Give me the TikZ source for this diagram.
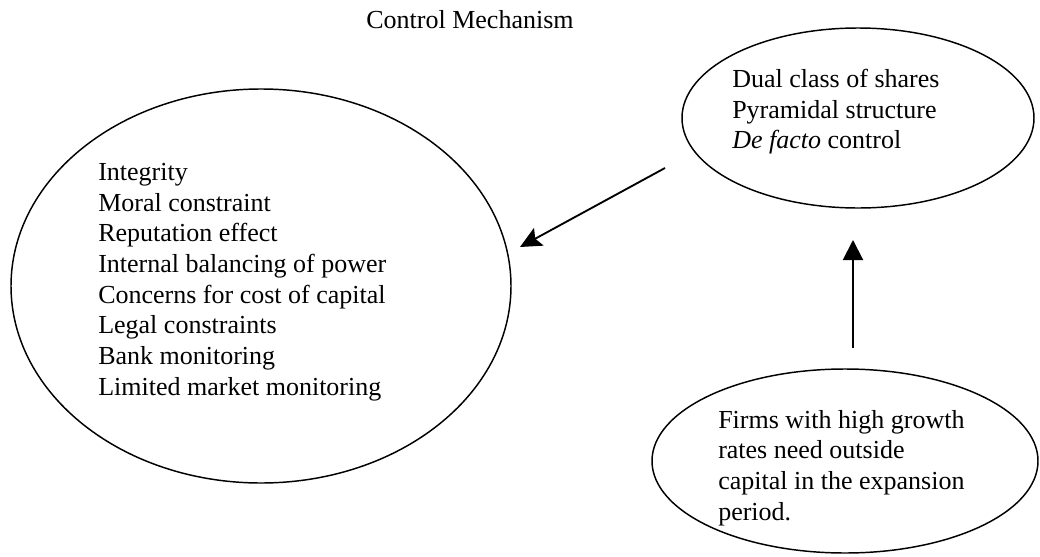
\documentclass[tikz,border=0pt]{standalone}
\usepackage{fontspec}
\setmainfont{Liberation Serif}
\usetikzlibrary{shapes.geometric,arrows.meta}
\tikzset{
  oval/.style={draw=black, ellipse, line width=1.1pt, inner sep=0pt},
  listtext/.style={anchor=north west, align=left, inner sep=0pt, font=\fontsize{19.5}{23}\selectfont},
  link/.style={line width=1.4pt, -{Stealth[length=16pt, width=15pt, inset=3pt]}},
  uplink/.style={line width=1.5pt, -{Triangle[length=15pt, width=15pt]}}
}
\begin{document}
\begin{tikzpicture}[x=0.75pt, y=-0.75pt]
    \useasboundingbox (0,0) rectangle (1040,557);

    \node[anchor=base, inner sep=0pt, font=\fontsize{19.5}{23}\selectfont] (title) at (470, 28) {Control Mechanism};

    % the three ellipses
    \node[oval, minimum width=375pt, minimum height=295.5pt] (checks) at (261, 286) {};
    \node[oval, minimum width=264pt, minimum height=135pt] (means) at (858, 118) {};
    \node[oval, minimum width=289.5pt, minimum height=138pt] (growth) at (845, 461) {};

    \node[listtext] (checklist) at (98, 163) {
      Integrity \\
      Moral constraint \\
      Reputation effect \\
      Internal balancing of power \\
      Concerns for cost of capital \\
      Legal constraints \\
      Bank monitoring \\
      Limited market monitoring
    };

    \node[listtext] (meanslist) at (732, 69) {
      Dual class of shares \\
      Pyramidal structure \\
      \textit{De facto} control
    };

    \node[listtext] (growthlist) at (718, 410) {
      Firms with high growth \\
      rates need outside \\
      capital in the expansion \\
      period.
    };

    % connectors
    \coordinate (diagfrom) at (665, 168);
    \coordinate (diagto) at (520, 247);
    \coordinate (upfrom) at (853, 348);
    \coordinate (upto) at (853, 240);
    \draw[link] (diagfrom) -- (diagto);
    \draw[uplink] (upfrom) -- (upto);
  \end{tikzpicture}
\end{document}
